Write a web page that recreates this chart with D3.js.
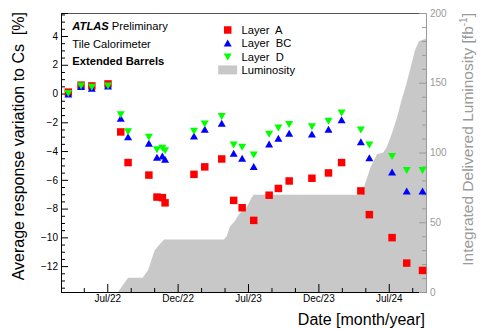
<!DOCTYPE html>
<html>
<head>
<meta charset="utf-8">
<script src="https://cdn.jsdelivr.net/npm/d3@7"></script>
<style>
  html, body { margin: 0; padding: 0; background: #fff; }
  svg { display: block; font-family: "Liberation Sans", Arial, Helvetica, sans-serif; }
</style>
</head>
<body>
<div id="chart"></div>
<script>
// ---------------- data ----------------
const dates = ["2022-03-23","2022-04-25","2022-05-23","2022-07-04","2022-08-06","2022-08-25","2022-10-18",
  "2022-11-08","2022-11-22","2022-11-29","2023-02-12","2023-03-12","2023-04-25","2023-05-26","2023-06-17",
  "2023-07-17","2023-08-26","2023-09-19","2023-10-17","2023-12-15","2024-01-27","2024-03-01","2024-04-20",
  "2024-05-12","2024-07-10","2024-08-17","2024-09-27"];
const layerA  = [0.1,0.58,0.53,0.67,-2.67,-4.8,-5.67,-7.2,-7.24,-7.6,-5.62,-5.1,-4.55,-7.43,-7.94,-8.82,-7.07,-6.6,-6.08,-5.89,-5.52,-4.8,-6.77,-8.42,-10.02,-11.79,-12.3];
const layerBC = [-0.05,0.46,0.35,0.5,-1.74,-3.02,-3.48,-4.45,-4.36,-4.59,-2.97,-2.5,-2.09,-4.18,-4.52,-5.1,-3.53,-3.13,-2.79,-2.83,-2.5,-1.84,-3.37,-4.48,-5.47,-6.79,-6.79];
const layerD  = [0.02,0.55,0.45,0.55,-1.45,-2.64,-3.02,-3.88,-3.79,-3.95,-2.6,-2.09,-1.58,-3.55,-3.71,-4.25,-2.81,-2.37,-2.14,-2.28,-1.91,-1.34,-2.51,-3.55,-4.36,-5.33,-5.33];

const lumDates = ["2022-03-04","2022-07-30","2022-08-25","2022-10-02","2022-10-16","2022-11-02","2022-11-15",
  "2022-11-27","2023-05-01","2023-05-08","2023-05-16","2023-05-29","2023-06-10","2023-06-29","2023-07-12",
  "2023-07-17","2024-04-22","2024-05-01","2024-05-15","2024-06-01","2024-06-17","2024-06-26","2024-07-09",
  "2024-07-23","2024-08-03","2024-08-16","2024-09-07","2024-09-18","2024-10-06"];
const lumValues = [0,0,10.2,10.2,15.7,30,34.3,37.6,37.6,40.2,46.7,50.9,56.2,61,68,69.8,69.8,77.6,89.5,99,100,103.8,113.3,125.2,137.1,149,172.9,180,181.5];

const xTickDates  = ["2022-07-02T00:00","2022-12-31T14:24","2023-07-02T04:48","2023-12-31T19:12","2024-07-01T09:36"];
const xTickLabels = ["Jul/22","Dec/22","Jul/23","Dec/23","Jul/24"];
const yLeftTicks  = [-12,-10,-8,-6,-4,-2,0,2,4];
const yRightTicks = [0,50,100,150,200];
const legendLabels = ["Layer  A","Layer  BC","Layer  D","Luminosity"];

// ---------------- layout ----------------
const W = 481, H = 329;
const L = 61, R = 426, T = 13, B = 292;
const parse = d3.utcParse("%Y-%m-%d");
const parseT = d3.utcParse("%Y-%m-%dT%H:%M");

const x = d3.scaleUtc().domain([parse("2022-03-04"), parse("2024-10-06")]).range([L, R]);
const yL = d3.scaleLinear().domain([-13.8, 5.6]).range([B, T]);
const yR = d3.scaleLinear().domain([0, 200]).range([B, T]);

const svg = d3.select("#chart").append("svg").attr("width", W).attr("height", H);
svg.append("rect").attr("width", W).attr("height", H).attr("fill", "#fff");

const lumColor = "#c8c8c8";
const grayAxis = "#9a9a9a";

// luminosity area
const lum = lumDates.map((d, i) => ({ d: parse(d), v: lumValues[i] }));
svg.append("path")
  .datum(lum)
  .attr("fill", lumColor)
  .attr("d", d3.area().x(p => x(p.d)).y0(yR(0)).y1(p => yR(p.v)));

// top frame line
svg.append("line").attr("x1", L).attr("x2", R).attr("y1", T + 0.5).attr("y2", T + 0.5)
  .attr("stroke", "#555").attr("stroke-width", 1);

// ---------- bottom axis ----------
const majorT = xTickDates.map(s => parseT(s));
const step = (majorT[1] - majorT[0]) / 3;
const minorT = [];
for (let k = -3; k <= 15; k++) {
  const t = new Date(+majorT[0] + k * step);
  if (t >= x.domain()[0] && t <= x.domain()[1] && k % 3 !== 0) minorT.push(t);
}
const gxMinor = svg.append("g").attr("transform", `translate(0,${B})`)
  .call(d3.axisBottom(x).tickValues(minorT).tickSize(-4).tickFormat(""));
gxMinor.select(".domain").remove();
const gx = svg.append("g").attr("transform", `translate(0,${B})`)
  .call(d3.axisBottom(x).tickValues(majorT).tickSize(-8).tickPadding(3)
    .tickFormat((d, i) => xTickLabels[i]));
gx.selectAll("text").attr("font-size", 10).attr("font-family", "Liberation Sans, Arial, sans-serif").attr("fill", "#000");
svg.selectAll(".tick line").attr("stroke", "#000");

// ---------- left axis ----------
const yMinor = d3.range(-13.5, 5.6, 0.5).filter(v => Math.abs(v % 2) > 1e-9);
const glMinor = svg.append("g").attr("transform", `translate(${L},0)`)
  .call(d3.axisLeft(yL).tickValues(yMinor).tickSize(-4).tickFormat(""));
glMinor.select(".domain").remove();
const gl = svg.append("g").attr("transform", `translate(${L},0)`)
  .call(d3.axisLeft(yL).tickValues(yLeftTicks).tickSize(-7).tickPadding(3)
    .tickFormat(d => d < 0 ? "\u2212" + Math.abs(d) : String(d)));
gl.selectAll("text").attr("font-size", 10).attr("font-family", "Liberation Sans, Arial, sans-serif").attr("fill", "#000");

// ---------- right axis ----------
const rMinor = d3.range(0, 201, 10).filter(v => v % 50 !== 0);
const grMinor = svg.append("g").attr("transform", `translate(${R},0)`)
  .call(d3.axisRight(yR).tickValues(rMinor).tickSize(-4).tickFormat(""));
grMinor.select(".domain").remove();
grMinor.selectAll("line").attr("stroke", grayAxis);
const gr = svg.append("g").attr("transform", `translate(${R},0)`)
  .call(d3.axisRight(yR).tickValues(yRightTicks).tickSize(-7).tickPadding(4));
gr.selectAll("line").attr("stroke", grayAxis);
gr.select(".domain").attr("stroke", grayAxis);
gr.selectAll("text").attr("font-size", 10).attr("font-family", "Liberation Sans, Arial, sans-serif").attr("fill", grayAxis);

// ---------- markers ----------
const sq = d3.symbol().type(d3.symbolSquare).size(56);
const triUp = "M0,-3.8L4,3.2L-4,3.2Z";
const triDown = "M0,3.8L4,-3.2L-4,-3.2Z";

svg.append("g").selectAll("path").data(dates).join("path")
  .attr("d", sq).attr("fill", "#ff0000")
  .attr("transform", (d, i) => `translate(${x(parse(d))},${yL(layerA[i])})`);
svg.append("g").selectAll("path").data(dates).join("path")
  .attr("d", triUp).attr("fill", "#0000ff")
  .attr("transform", (d, i) => `translate(${x(parse(d))},${yL(layerBC[i])})`);
svg.append("g").selectAll("path").data(dates).join("path")
  .attr("d", triDown).attr("fill", "#00ff00")
  .attr("transform", (d, i) => `translate(${x(parse(d))},${yL(layerD[i])})`);

// ---------- legend ----------
const legX = 227.7, legY0 = 30, legDy = 13.3;
const lg = svg.append("g");
lg.append("path").attr("d", sq).attr("fill", "#ff0000").attr("transform", `translate(${legX},${legY0})`);
lg.append("path").attr("d", triUp).attr("fill", "#0000ff").attr("transform", `translate(${legX},${legY0 + legDy})`);
lg.append("path").attr("d", triDown).attr("fill", "#00ff00").attr("transform", `translate(${legX},${legY0 + 2 * legDy})`);
lg.append("rect").attr("x", legX - 9.5).attr("y", legY0 + 3 * legDy - 4.5).attr("width", 19).attr("height", 9).attr("fill", lumColor);
legendLabels.forEach((t, i) => {
  lg.append("text").attr("x", 241.5).attr("y", legY0 + i * legDy + 4)
    .attr("font-size", 11.2).attr("fill", "#000").style("white-space", "pre").text(t);
});

// ---------- ATLAS labels ----------
const atl = svg.append("text").attr("x", 72.3).attr("y", 30).attr("font-size", 11.2).attr("fill", "#000");
atl.append("tspan").attr("font-weight", "bold").attr("font-style", "italic").text("ATLAS");
atl.append("tspan").text(" Preliminary");
svg.append("text").attr("x", 72.3).attr("y", 47.7).attr("font-size", 11.2).attr("fill", "#000").text("Tile Calorimeter");
svg.append("text").attr("x", 72.3).attr("y", 65).attr("font-size", 11.2).attr("font-weight", "bold").attr("fill", "#000").text("Extended Barrels");

// ---------- axis titles ----------
svg.append("text").attr("text-anchor", "end").attr("font-size", 16).attr("fill", "#000")
  .attr("transform", "translate(24,12) rotate(-90)").style("white-space", "pre")
  .text("Average response variation to Cs  [%]");
const rt = svg.append("text").attr("text-anchor", "end").attr("font-size", 15.5).attr("fill", grayAxis)
  .attr("transform", "translate(473.3,13) rotate(-90)");
rt.append("tspan").text("Integrated Delivered Luminosity [fb");
rt.append("tspan").attr("font-size", 10).attr("dy", -6).text("-1");
rt.append("tspan").attr("dy", 6).text("]");
svg.append("text").attr("text-anchor", "end").attr("x", 425).attr("y", 325).attr("font-size", 16).attr("fill", "#000")
  .text("Date [month/year]");
</script>
</body>
</html>
